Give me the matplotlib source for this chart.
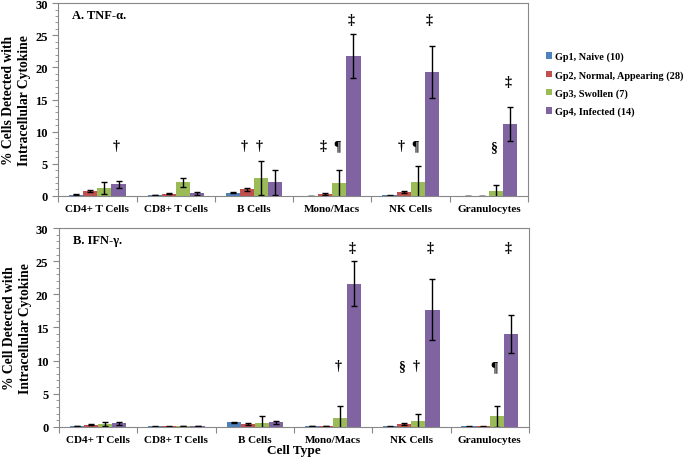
import numpy as np
import matplotlib
matplotlib.use("Agg")
import matplotlib.pyplot as plt
from matplotlib.ticker import MultipleLocator

plt.rcParams['font.family'] = ['Liberation Serif', 'DejaVu Serif']
plt.rcParams['font.weight'] = 'bold'

cell_types = ["CD4+ T Cells", "CD8+ T Cells", "B Cells", "Mono/Macs", "NK Cells", "Granulocytes"]
groups = ["Gp1, Naive (10)", "Gp2, Normal, Appearing (28)", "Gp3, Swollen (7)", "Gp4, Infected (14)"]
colors = ["#4F81BD", "#C0504D", "#9BBB59", "#8064A2"]

# A. TNF-alpha: one list per group, one value per cell type
tnf_gp1 = [0.2, 0.15, 0.5, 0.0, 0.1, 0.0]
tnf_gp2 = [0.75, 0.35, 1.0, 0.3, 0.6, 0.0]
tnf_gp3 = [1.2, 2.1, 2.8, 2.0, 2.2, 0.75]
tnf_gp4 = [1.8, 0.4, 2.1, 21.8, 19.3, 11.2]
tnf_err1 = [0.05, 0.05, 0.1, 0.0, 0.05, 0.0]
tnf_err2 = [0.2, 0.1, 0.2, 0.1, 0.2, 0.0]
tnf_err3 = [0.9, 0.7, 2.7, 2.1, 2.5, 1.0]
tnf_err4 = [0.55, 0.2, 1.9, 3.4, 4.1, 2.7]

# B. IFN-gamma
ifn_gp1 = [0.1, 0.05, 0.65, 0.1, 0.05, 0.05]
ifn_gp2 = [0.3, 0.05, 0.4, 0.1, 0.4, 0.05]
ifn_gp3 = [0.45, 0.1, 0.5, 1.4, 0.9, 1.6]
ifn_gp4 = [0.5, 0.1, 0.65, 21.6, 17.7, 14.0]
ifn_err1 = [0.05, 0.02, 0.1, 0.05, 0.02, 0.02]
ifn_err2 = [0.1, 0.02, 0.1, 0.05, 0.1, 0.02]
ifn_err3 = [0.35, 0.05, 1.1, 1.7, 1.05, 1.6]
ifn_err4 = [0.25, 0.05, 0.25, 3.4, 4.6, 2.9]

# significance marks: (cell index, group index, symbol, y)
tnf_marks = [(0, 3, "\u2020", 7.8), (2, 1, "\u2020", 7.8), (2, 2, "\u2020", 7.8),
             (3, 1, "\u2021", 7.8), (3, 2, "\u00b6", 7.8), (3, 3, "\u2021", 27.4),
             (4, 1, "\u2020", 7.8), (4, 2, "\u00b6", 7.8), (4, 3, "\u2021", 27.4),
             (5, 2, "\u00a7", 7.6), (5, 3, "\u2021", 17.8)]
ifn_marks = [(3, 2, "\u2020", 9.2), (3, 3, "\u2021", 27.0),
             (4, 1, "\u00a7", 9.2), (4, 2, "\u2020", 9.2), (4, 3, "\u2021", 27.0),
             (5, 2, "\u00b6", 9.0), (5, 3, "\u2021", 27.0)]

width = 0.18
offsets = (np.arange(4) - 1.5) * width
x = np.arange(len(cell_types))


def draw_panel(ax, values, errors, marks, title, ylabel):
    for i in range(4):
        ax.bar(x + offsets[i], values[i], width, color=colors[i], label=groups[i],
               yerr=errors[i], error_kw=dict(ecolor='black', elinewidth=1, capsize=2.5, capthick=1))
    for ci, gi, sym, yv in marks:
        ax.text(x[ci] + offsets[gi] - 0.03, yv, sym, ha='center', va='center', fontsize=10)
    ax.set_xlim(-0.5, len(cell_types) - 0.5)
    ax.set_ylim(0, 30)
    ax.yaxis.set_major_locator(MultipleLocator(5))
    ax.yaxis.set_minor_locator(MultipleLocator(1))
    ax.set_xticks(np.arange(len(cell_types) + 1) - 0.5, minor=False)
    ax.set_xticklabels([])
    ax.set_xticks(x, minor=True)
    ax.set_xticklabels(cell_types, minor=True, fontsize=8)
    ax.tick_params(axis='x', which='minor', length=0, pad=6)
    ax.tick_params(axis='x', which='major', length=4, color='#888888')
    ax.tick_params(axis='y', which='major', labelsize=9, length=4, color='#888888')
    ax.tick_params(axis='y', which='minor', length=2, color='#888888')
    for sp in ax.spines.values():
        sp.set_color('#888888')
    ax.text(0.03, 0.94, title, transform=ax.transAxes, fontsize=9, fontweight='bold', va='center')
    ax.set_ylabel(ylabel, fontsize=9.8, fontweight='bold', linespacing=1.3, va='center')
    ax.yaxis.set_label_coords(-0.088, 0.5)


fig = plt.figure(figsize=(6.85, 4.6), dpi=100)
ax1 = fig.add_axes([0.085, 0.572, 0.686, 0.419])
ax2 = fig.add_axes([0.086, 0.070, 0.686, 0.432])

draw_panel(ax1, [tnf_gp1, tnf_gp2, tnf_gp3, tnf_gp4], [tnf_err1, tnf_err2, tnf_err3, tnf_err4],
           tnf_marks, "A. TNF-\u03b1.", "% Cells Detected with\nIntracellular Cytokine")
draw_panel(ax2, [ifn_gp1, ifn_gp2, ifn_gp3, ifn_gp4], [ifn_err1, ifn_err2, ifn_err3, ifn_err4],
           ifn_marks, "B. IFN-\u03b3.", "% Cell Detected with\nIntracellular Cytokine")
ax2.set_xlabel("Cell Type", fontsize=9.5, fontweight='bold', labelpad=0)

ax1.legend(loc='upper left', bbox_to_anchor=(1.025, 0.78), frameon=False, fontsize=7.4,
           handlelength=0.6, handleheight=0.6, handletextpad=0.3, labelspacing=0.85,
           borderaxespad=0.2)

fig.savefig("out.png", dpi=100)
